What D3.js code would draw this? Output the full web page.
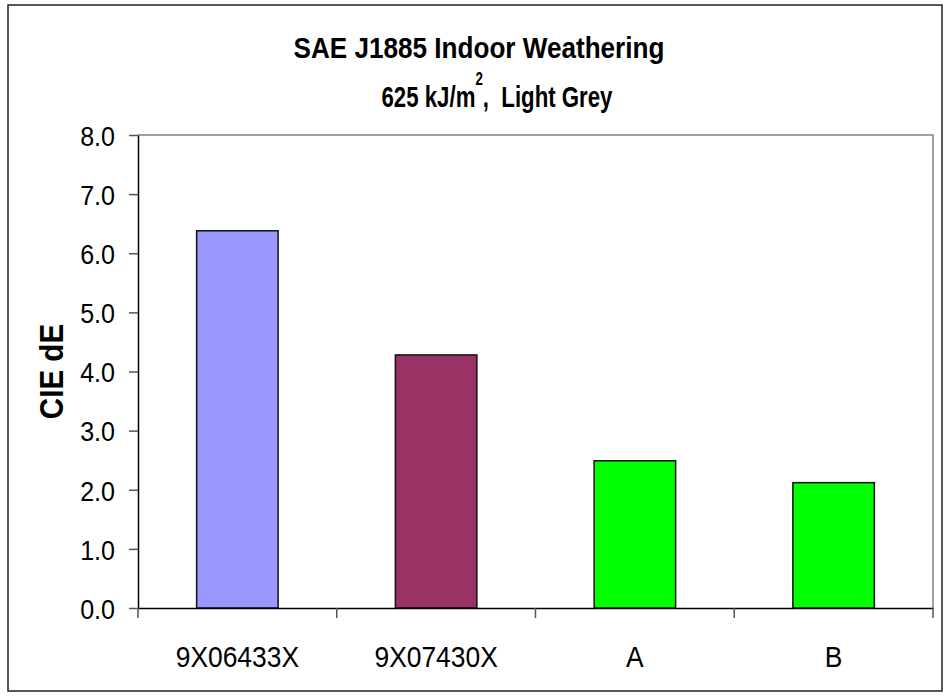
<!DOCTYPE html>
<html lang="en">
<head>
	<meta charset="utf-8">
	<title>SAE J1885 Indoor Weathering</title>
	<script src="https://d3js.org/d3.v7.min.js"></script>
	<style type="text/css">
		body { margin: 0; background: #fff; }
		svg { display: block; background: #fff; font-family: "Liberation Sans", Arial, sans-serif; }
		.title { white-space: pre; }
	</style>
</head>
<body>
	<svg id="chart" width="951" height="699"></svg>

	<script type="text/javascript">

	// data
	var categories = ["9X06433X", "9X07430X", "A", "B"]
	var values = [6.38, 4.28, 2.49, 2.12]
	var yTicks = [0, 1, 2, 3, 4, 5, 6, 7, 8]

	// styles
	var barColors = ["#9999ff", "#993366", "#00ff00", "#00ff00"]

	// layout
	var W = 951, H = 699
	var plot = {left: 138, right: 933, top: 135, bottom: 608}

	var svg = d3.select("#chart")

	// squeeze text a bit, the original font is narrower than Liberation Sans
	function condense(sel, k) {
		sel.each(function () {
			var w = this.getComputedTextLength()
			d3.select(this).attr("textLength", w * k).attr("lengthAdjust", "spacingAndGlyphs")
		})
	}

	// outer frame
	svg.append("rect")
		.attr("x", 8).attr("y", 5)
		.attr("width", 934).attr("height", 686)
		.attr("fill", "none")
		.attr("stroke", "#222")
		.attr("stroke-width", 1.5)

	// scales
	var x = d3.scaleBand()
		.domain(categories)
		.range([plot.left, plot.right])
		.paddingInner(0.59)
		.paddingOuter(0.295)

	var y = d3.scaleLinear()
		.domain([0, 8])
		.range([plot.bottom, plot.top])

	// plot area frame, grey top and right
	svg.append("path")
		.attr("d", "M" + plot.left + "," + y(8) + "H" + plot.right + "V" + plot.bottom)
		.attr("fill", "none")
		.attr("stroke", "#808080")
		.attr("stroke-width", 1.5)

	// bars
	svg.append("g")
		.selectAll("rect")
		.data(values)
		.join("rect")
		.attr("x", (d, i) => x(categories[i]))
		.attr("y", d => y(d))
		.attr("width", x.bandwidth())
		.attr("height", d => y(0) - y(d))
		.attr("fill", (d, i) => barColors[i])
		.attr("stroke", "#111")
		.attr("stroke-width", 1.5)

	// y axis
	var yAxis = svg.append("g")
		.attr("transform", "translate(" + plot.left + ",0)")
		.call(d3.axisLeft(y).tickValues(yTicks).tickFormat(d3.format(".1f")).tickSize(9).tickSizeOuter(0).tickPadding(14))
	yAxis.select(".domain").attr("stroke", "#000").attr("stroke-width", 1.5)
	yAxis.selectAll(".tick line").attr("stroke", "#555").attr("stroke-width", 1.5)
	yAxis.selectAll(".tick text")
		.attr("font-size", 28.5)
		.attr("fill", "#000")
		.attr("dy", "0.36em")
		.call(condense, 0.88)

	// x axis: labels at band centres, ticks between bands
	var xAxis = svg.append("g")
		.attr("transform", "translate(0," + plot.bottom + ")")
		.call(d3.axisBottom(x).tickSize(0).tickSizeOuter(0).tickPadding(38))
	xAxis.select(".domain").attr("stroke", "#000").attr("stroke-width", 1.5)
	xAxis.selectAll(".tick text")
		.attr("font-size", 30)
		.attr("fill", "#000")
		.call(condense, 0.88)

	var gap = (x.step() - x.bandwidth()) / 2
	var bounds = categories.map(c => x(c) - gap).concat([plot.right])
	xAxis.append("g")
		.selectAll("line")
		.data(bounds)
		.join("line")
		.attr("x1", d => d).attr("x2", d => d)
		.attr("y1", 0).attr("y2", 10)
		.attr("stroke", "#555")
		.attr("stroke-width", 1.5)

	// y axis title
	svg.append("text")
		.attr("transform", "translate(63," + ((plot.top + plot.bottom) / 2) + ") rotate(-90)")
		.attr("text-anchor", "middle")
		.attr("font-size", 34)
		.attr("font-weight", "bold")
		.text("CIE dE")
		.call(condense, 0.87)

	// chart title
	svg.append("text")
		.attr("class", "title")
		.attr("x", 479).attr("y", 58)
		.attr("text-anchor", "middle")
		.attr("font-size", 30)
		.attr("font-weight", "bold")
		.text("SAE J1885 Indoor Weathering")
		.call(condense, 0.87)

	var t2 = svg.append("text")
		.attr("class", "title")
		.attr("x", 497).attr("y", 107)
		.attr("text-anchor", "middle")
		.attr("font-size", 30)
		.attr("font-weight", "bold")
	t2.append("tspan").text("625 kJ/m")
	t2.append("tspan").attr("font-size", 18).attr("dy", -22).text("2")
	t2.append("tspan").attr("dy", 22).text(",  Light Grey")
	t2.attr("textLength", 231).attr("lengthAdjust", "spacingAndGlyphs")

	</script>
</body>
</html>
